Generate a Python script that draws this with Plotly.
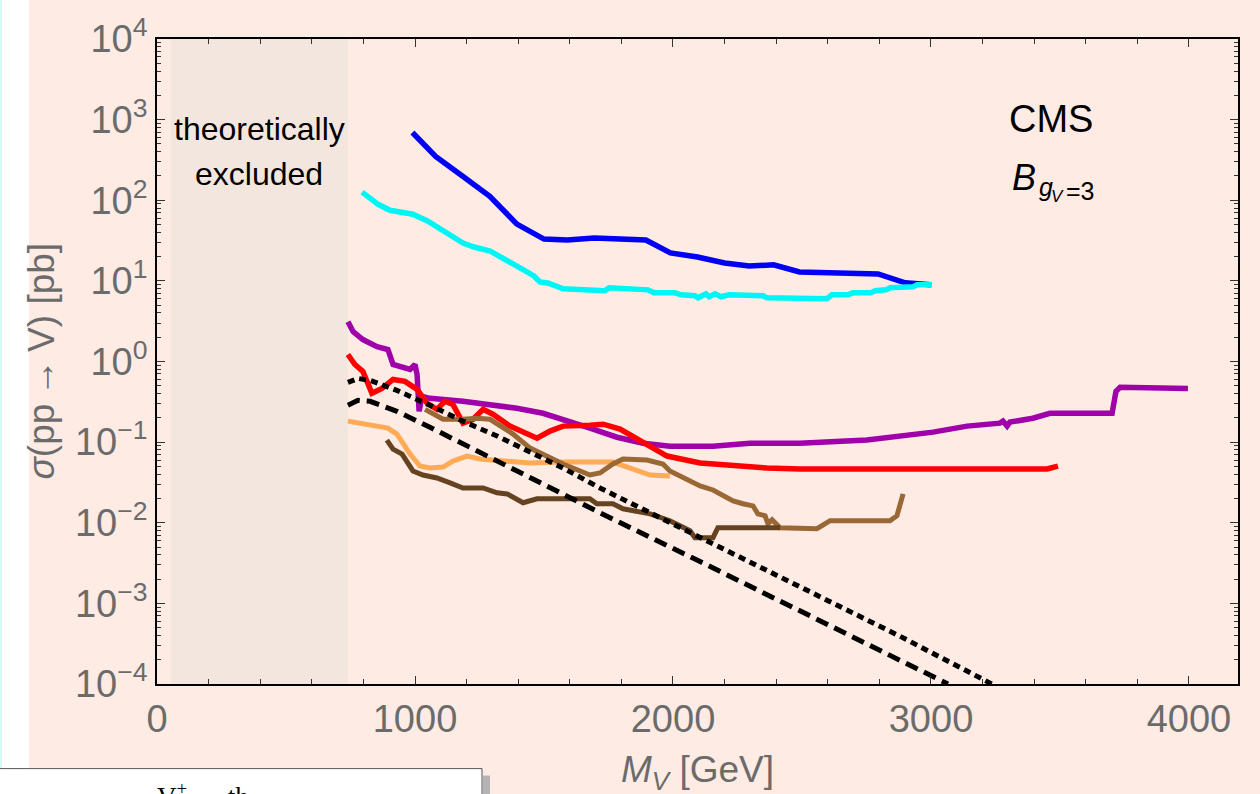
import plotly.graph_objects as go

# ---------------------------------------------------------------- figure geometry
W, H = 1260, 794
ML, MR, MT, MB = 157, 22, 36, 110
PW, PH = W - ML - MR, H - MT - MB


def px(x):
    """horizontal pixel -> paper coordinate"""
    return (x - ML) / PW


def py(y):
    """vertical pixel -> paper coordinate"""
    return (H - MB - y) / PH


# ---------------------------------------------------------------- data (M_V in GeV, sigma in pb)
m_blue = [990, 1080, 1185, 1290, 1395, 1500, 1590, 1695, 1895, 1990, 2095, 2200,
          2295, 2390, 2490, 2795, 2900, 3000]
s_blue = [692, 349, 198, 112, 50.6, 33.0, 32.1, 34.0, 32.1, 22.2, 19.8, 16.7,
          15.3, 15.8, 12.9, 12.2, 9.45, 8.93]

m_cyan = [795, 857, 903, 992, 1050, 1186, 1229, 1291, 1380, 1426, 1461, 1484, 1515,
          1574, 1736, 1752, 1903, 1926, 2008, 2031, 2085, 2097, 2128, 2140, 2163,
          2186, 2217, 2349, 2364, 2597, 2616, 2678, 2698, 2767, 2783, 2826, 2841,
          2930, 2946, 3004]
s_cyan = [126, 89, 75, 67, 55, 29.5, 26.3, 23.5, 16.2, 13.3, 11.5, 9.7, 9.4,
          7.97, 7.53, 8.2, 7.74, 7.11, 7.11, 6.72, 6.53, 6.17, 6.91, 6.35, 6.91,
          6.35, 6.72, 6.53, 6.17, 6.0, 6.72, 6.72, 7.11, 7.11, 7.53, 7.74, 8.2,
          8.43, 8.93, 8.93]

m_purple = [740, 760, 798, 853, 895, 915, 981, 1000, 1008, 1016, 1027, 1058, 1186,
            1291, 1395, 1496, 1574, 1678, 1783, 1884, 1988, 2155, 2298, 2492, 2752,
            2880, 3008, 3140, 3267, 3279, 3295, 3306, 3395, 3461, 3686, 3702, 3717,
            3733, 3996]
s_purple = [3.12, 2.35, 1.87, 1.53, 1.41, 0.918, 0.797, 0.918, 0.691, 0.241, 0.370,
            0.349, 0.321, 0.294, 0.263, 0.228, 0.192, 0.149, 0.115, 0.097, 0.089,
            0.089, 0.097, 0.097, 0.106, 0.119, 0.133, 0.158, 0.172, 0.182, 0.158,
            0.177, 0.198, 0.228, 0.235, 0.228, 0.426, 0.478, 0.464]

m_red = [740, 767, 798, 833, 872, 915, 961, 1008, 1047, 1085, 1116, 1147, 1186,
         1225, 1264, 1302, 1368, 1473, 1523, 1574, 1678, 1729, 1795, 1872, 1977,
         2105, 2233, 2364, 2492, 2752, 3008, 3267, 3450, 3492]
s_red = [1.22, 0.918, 0.753, 0.403, 0.464, 0.599, 0.567, 0.451, 0.303, 0.255, 0.321,
         0.294, 0.172, 0.192, 0.255, 0.222, 0.158, 0.112, 0.137, 0.158, 0.162,
         0.167, 0.145, 0.103, 0.0672, 0.0550, 0.0505, 0.0477, 0.0464, 0.0464,
         0.0477, 0.0477, 0.0464, 0.0505]

m_orange = [740, 798, 895, 930, 981, 1019, 1058, 1109, 1147, 1202, 1252, 1446, 1574,
            1767, 1833, 1911, 1988]
s_orange = [0.182, 0.167, 0.149, 0.126, 0.0711, 0.0505, 0.0477, 0.0491, 0.0582,
            0.0672, 0.0617, 0.0550, 0.0566, 0.0566, 0.0477, 0.0391, 0.0380]

m_brown = [1039, 1109, 1186, 1240, 1291, 1380, 1446, 1512, 1574, 1678, 1717, 1767,
           1806, 1899, 1961, 1988, 2105, 2155, 2233, 2271, 2310, 2329, 2357, 2368,
           2384, 2415, 2558, 2609, 2841, 2868, 2892]
s_brown = [0.255, 0.192, 0.192, 0.198, 0.192, 0.126, 0.0843, 0.0672, 0.0535, 0.0391,
           0.0414, 0.0535, 0.0617, 0.0600, 0.0535, 0.0439, 0.0286, 0.0255, 0.0187,
           0.0172, 0.0162, 0.0129, 0.0122, 0.00972, 0.0109, 0.00867, 0.00843,
           0.0106, 0.0106, 0.0122, 0.0228]

m_darkbrown = [891, 915, 950, 992, 1031, 1085, 1136, 1186, 1264, 1318, 1357, 1395,
               1419, 1473, 1678, 1705, 1767, 1806, 1911, 1988, 2027, 2066, 2085,
               2155, 2174, 2415]
s_darkbrown = [0.106, 0.0820, 0.0711, 0.0439, 0.0391, 0.0359, 0.0312, 0.0270, 0.0270,
               0.0235, 0.0228, 0.0198, 0.0177, 0.0198, 0.0198, 0.0172, 0.0172,
               0.0149, 0.0129, 0.0106, 0.00918, 0.00796, 0.00653, 0.00653, 0.00867,
               0.00867]

# theory cross sections
m_dotted = [740, 779, 826, 930, 1058, 1186, 1318, 1574, 1717, 2105, 2492, 2880, 3236]
s_dotted = [0.551, 0.617, 0.583, 0.438, 0.286, 0.182, 0.119, 0.0477, 0.0270,
            0.00653, 0.00158, 0.000391, 0.0001]

m_dashed = [740, 779, 826, 930, 1058, 1186, 1446, 1717, 2105, 2492, 2880, 3066]
s_dashed = [0.286, 0.330, 0.321, 0.241, 0.153, 0.0945, 0.0359, 0.0133, 0.00330,
            0.000796, 0.000198, 0.0001]

excluded_range = [53, 740]

x_ticks = [0, 1000, 2000, 3000, 4000]
y_exps = list(range(-4, 5))
y_ticktext = ["10<sup>%s</sup>" % (str(e).replace("-", "\u2212")) for e in y_exps]

# ---------------------------------------------------------------- colours
PINK = "#FDEBE4"
EXCL = "#F3E6DF"
GREY_TXT = "#6B6B6B"

series = [
    (m_blue, s_blue, "#0000F5", None, 5.5),
    (m_cyan, s_cyan, "#00F5F5", None, 5.5),
    (m_purple, s_purple, "#A000AA", None, 5.5),
    (m_red, s_red, "#FF0000", None, 5.5),
    (m_orange, s_orange, "#FFAA55", None, 5),
    (m_brown, s_brown, "#9A6835", None, 5),
    (m_darkbrown, s_darkbrown, "#654321", None, 5),
    (m_dotted, s_dotted, "#000000", "7px,5px", 5),
    (m_dashed, s_dashed, "#000000", "13px,7px", 5),
]

fig = go.Figure()
for xs, ys, col, dash, w in series:
    fig.add_trace(go.Scatter(
        x=xs, y=ys, mode="lines",
        line=dict(color=col, width=w, dash=dash),
        showlegend=False, hoverinfo="skip",
    ))

shapes = [
    # shaded theoretically excluded band
    dict(type="rect", xref="x", yref="paper", x0=excluded_range[0], x1=excluded_range[1],
         y0=0, y1=1, fillcolor=EXCL, line=dict(width=0), layer="below"),
    # white margin strip on the far left
    dict(type="rect", xref="paper", yref="paper", x0=px(0), x1=px(29), y0=py(H + 5), y1=py(-5),
         fillcolor="white", line=dict(width=0), layer="below"),
    dict(type="rect", xref="paper", yref="paper", x0=px(0), x1=px(2), y0=py(H + 5), y1=py(-5),
         fillcolor="#D4FBF1", line=dict(width=0), layer="below"),
    # caption box below the chart
    dict(type="rect", xref="paper", yref="paper", x0=px(483), x1=px(490), y0=py(H + 5), y1=py(776),
         fillcolor="#B4B4B4", line=dict(width=0), layer="above"),
    dict(type="rect", xref="paper", yref="paper", x0=px(-2), x1=px(482), y0=py(H + 5), y1=py(769),
         fillcolor="white", line=dict(color="#555555", width=1), layer="above"),
]

annotations = [
    dict(text="theoretically", x=sum(excluded_range) / 2, xref="x", y=py(126), yref="paper",
         showarrow=False, font=dict(size=32, color="black"), xanchor="center", yanchor="middle"),
    dict(text="excluded", x=sum(excluded_range) / 2, xref="x", y=py(172), yref="paper",
         showarrow=False, font=dict(size=32, color="black"), xanchor="center", yanchor="middle"),
    dict(text="CMS", x=px(1051), y=py(116), xref="paper", yref="paper", showarrow=False,
         font=dict(size=38, color="black"), xanchor="center", yanchor="middle"),
    dict(text="<i>B</i>", x=px(1010), y=py(175), xref="paper", yref="paper", showarrow=False,
         font=dict(size=36, color="black"), xanchor="left", yanchor="middle"),
    dict(text="<i>g</i>", x=px(1037), y=py(185), xref="paper", yref="paper", showarrow=False,
         font=dict(size=25, color="black"), xanchor="left", yanchor="middle"),
    dict(text="<i>V</i>", x=px(1049), y=py(194), xref="paper", yref="paper", showarrow=False,
         font=dict(size=17, color="black"), xanchor="left", yanchor="middle"),
    dict(text="=3", x=px(1064), y=py(189), xref="paper", yref="paper", showarrow=False,
         font=dict(size=25, color="black"), xanchor="left", yanchor="middle"),
    # axis titles
    dict(text="<i>σ</i>(pp\u2009\u2192\u2009V) [pb]", x=px(41), y=py(360), xref="paper",
         yref="paper", showarrow=False, textangle=-90, font=dict(size=37, color=GREY_TXT),
         xanchor="center", yanchor="middle"),
    dict(text="<i>M</i><sub><i>V</i></sub> [GeV]", x=px(697), y=py(772), xref="paper",
         yref="paper", showarrow=False, font=dict(size=37, color=GREY_TXT),
         xanchor="center", yanchor="middle"),
    # caption text, cut by the page edge
    dict(text="V<sup>+</sup> → th", x=px(155), y=py(796), xref="paper", yref="paper",
         showarrow=False, font=dict(size=27, color="black", family="Liberation Serif"),
         xanchor="left", yanchor="middle"),
]

axis_common = dict(
    showline=True, linecolor="black", linewidth=1.8, mirror="ticks",
    ticks="inside", tickcolor="#333333", tickwidth=1.3, ticklen=8,
    showgrid=False, zeroline=False,
    tickfont=dict(size=38, color=GREY_TXT, family="Liberation Sans"),
)

fig.update_layout(
    width=W, height=H,
    margin=dict(l=ML, r=MR, t=MT, b=MB, pad=0),
    paper_bgcolor=PINK, plot_bgcolor=PINK,
    font=dict(family="Liberation Sans"),
    shapes=shapes, annotations=annotations,
    xaxis=dict(
        range=[0, 4190], tickmode="array", tickvals=x_ticks,
        ticktext=[str(v) for v in x_ticks],
        minor=dict(tickvals=[v for v in range(200, 4200, 200) if v % 1000], ticks="inside",
                   ticklen=5, tickcolor="#333333", tickwidth=1.2),
        **axis_common,
    ),
    yaxis=dict(
        type="log", range=[-4, 4], tickmode="array",
        tickvals=[10.0 ** e for e in y_exps], ticktext=y_ticktext,
        minor=dict(tickvals=[k * 10.0 ** e for e in range(-4, 4) for k in range(2, 10)],
                   ticks="inside", ticklen=4, tickcolor="#333333", tickwidth=1.2),
        **axis_common,
    ),
)

fig.write_html("out.html")
